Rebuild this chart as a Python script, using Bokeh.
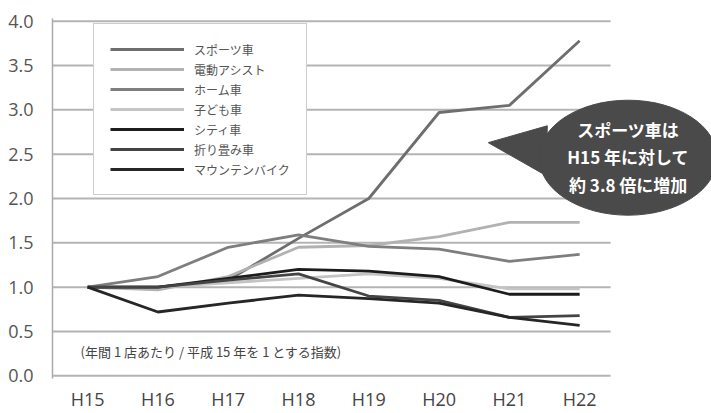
from bokeh.plotting import figure
from bokeh.models import (ColumnDataSource, Legend, LegendItem, FixedTicker,
                          Range1d, PrintfTickFormatter)
from bokeh.core.properties import value
from bokeh.embed import file_html
from bokeh.resources import INLINE

# ---- data ----
years = ["H15", "H16", "H17", "H18", "H19", "H20", "H21", "H22"]
sport = [1.00, 1.00, 1.08, 1.55, 2.00, 2.97, 3.05, 3.78]
assist = [1.00, 0.97, 1.12, 1.45, 1.47, 1.57, 1.73, 1.73]
home = [1.00, 1.12, 1.45, 1.59, 1.46, 1.43, 1.29, 1.37]
kids = [1.00, 1.00, 1.05, 1.10, 1.15, 1.10, 0.98, 0.98]
city = [1.00, 1.00, 1.10, 1.20, 1.18, 1.12, 0.92, 0.92]
folding = [1.00, 1.00, 1.08, 1.15, 0.90, 0.85, 0.66, 0.68]
mountain = [1.00, 0.72, 0.82, 0.91, 0.87, 0.82, 0.66, 0.57]
names = ["スポーツ車", "電動アシスト", "ホーム車", "子ども車", "シティ車", "折り畳み車", "マウンテンバイク"]
y_ticks = [0.0, 0.5, 1.0, 1.5, 2.0, 2.5, 3.0, 3.5, 4.0]
note = "(年間 1 店あたり / 平成 15 年を 1 とする指数)"
bubble_lines = ["スポーツ車は", "H15 年に対して", "約 3.8 倍に増加"]

series = [sport, assist, home, kids, city, folding, mountain]
colors = ["#6e6e6e", "#b2b2b2", "#7e7e7e", "#c4c4c4", "#1c1c1c", "#444444", "#262626"]

xs = list(range(len(years)))
X0, X1 = -0.5, 8.876
GRID_END = 7.44
JP = "Noto Sans CJK JP"

p = figure(width=711, height=413, output_backend="svg", toolbar_location=None,
           x_range=Range1d(X0, X1), y_range=Range1d(-0.03, 4.03),
           min_border_left=52, min_border_right=0, min_border_top=18,
           min_border_bottom=30)
p.outline_line_color = None
p.xgrid.visible = False
p.ygrid.visible = False
p.background_fill_color = "white"
p.border_fill_color = "white"

# gridlines
p.segment(x0=[X0] * len(y_ticks), x1=[GRID_END] * len(y_ticks), y0=y_ticks, y1=y_ticks,
          line_color="#b4b4b4", line_width=2)

# axes
ya = p.yaxis[0]
ya.ticker = FixedTicker(ticks=y_ticks)
ya.formatter = PrintfTickFormatter(format="%.1f")
ya.major_tick_line_color = None
ya.minor_tick_line_color = None
ya.axis_line_color = "#aaaaaa"
ya.axis_line_width = 1.5
ya.major_label_standoff = 13
ya.major_label_text_font = "Open Sans"
ya.major_label_text_font_size = "18px"
ya.major_label_text_color = "#555555"

xa = p.xaxis[0]
xa.ticker = FixedTicker(ticks=xs)
xa.major_label_overrides = {i: y for i, y in enumerate(years)}
xa.major_tick_line_color = None
xa.minor_tick_line_color = None
xa.axis_line_color = None
xa.major_label_standoff = 2
xa.major_label_text_font = "Open Sans"
xa.major_label_text_font_size = "18px"
xa.major_label_text_color = "#444444"

# lines
items = []
for name, vals, col in zip(names, series, colors):
    r = p.line(xs, vals, line_color=col, line_width=2.8)
    items.append(LegendItem(label=name, renderers=[r]))

legend = Legend(items=items, location=(41, 183), glyph_width=74, glyph_height=18,
                label_height=18, label_standoff=10, spacing=2,
                padding=16, margin=0, border_line_color="#9a9a9a",
                border_line_width=1.5, background_fill_color="white",
                background_fill_alpha=1.0, label_text_font=JP,
                label_text_font_size="12px", label_text_color="#555555")
p.add_layout(legend)

# note text
p.text(x=[-0.1], y=[0.27], text=[note], text_font=value(JP), text_font_size="13px",
       text_color="#444444", text_align="left", text_baseline="middle")

# callout bubble
bx, by = 7.69, 2.46
p.patch(x=[bx - 1.99, bx - 1.15, bx - 1.17], y=[by + 0.17, by + 0.36, by - 0.20],
        fill_color="#4a4a4a", line_color="#4a4a4a")
p.ellipse(x=[bx], y=[by], width=178, height=115, width_units="screen",
          height_units="screen", fill_color="#4a4a4a", line_color="#4a4a4a")
src = ColumnDataSource(dict(x=[bx] * 3, y=[by + 0.32, by + 0.01, by - 0.30], t=bubble_lines))
p.text(x="x", y="y", text="t", source=src, text_font=value(JP), text_font_size="17px",
       text_font_style="bold", text_color="white", text_align="center",
       text_baseline="middle")

open("out.html", "w").write(file_html(p, INLINE))
